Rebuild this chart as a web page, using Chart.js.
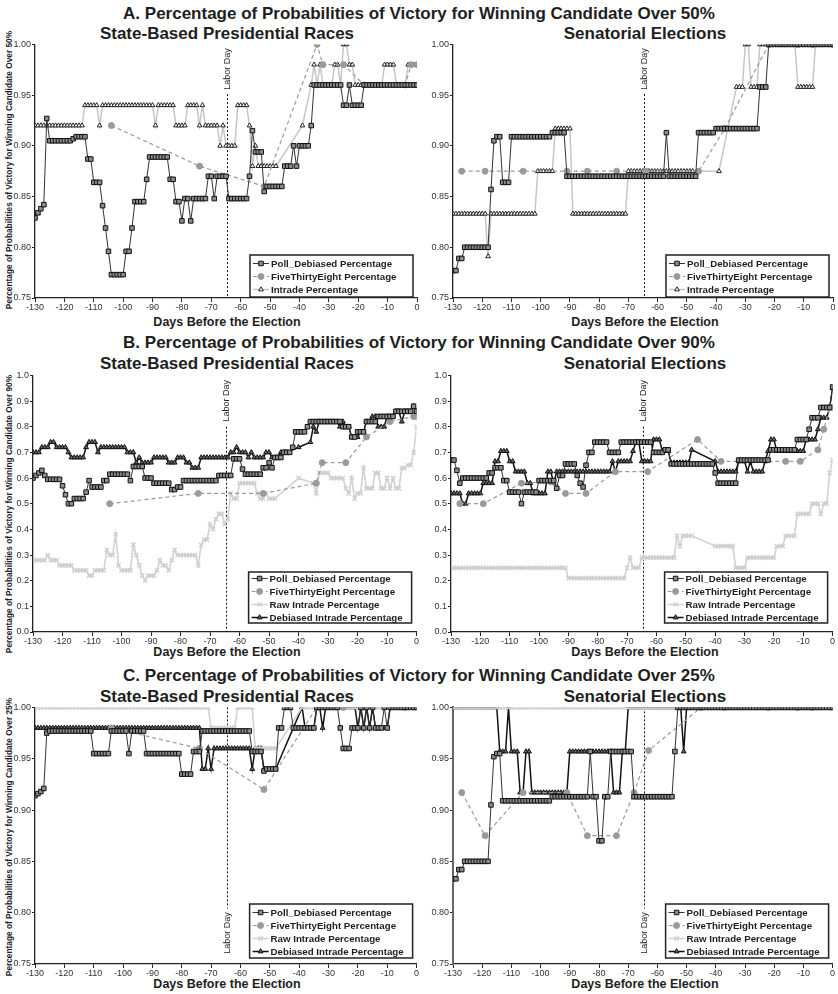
<!DOCTYPE html>
<html>
<head>
<meta charset="utf-8">
<script src="https://cdn.jsdelivr.net/npm/chart.js@4.4.0/dist/chart.umd.min.js"></script>
<style>
    body { margin: 0; width: 838px; height: 994px; overflow: hidden; position: relative; background: #fff;
           font-family: "Liberation Sans", Arial, sans-serif; color: #1e1e1e; }
    .t { position: absolute; font-weight: bold; white-space: nowrap; text-align: center; }
    .main { font-size: 17px; line-height: 17px; left: 0; width: 838px; }
    .sub { font-size: 17px; line-height: 17px; width: 400px; }
    .xt { font-size: 12.5px; line-height: 12.5px; width: 300px; }
    .yt { font-size: 8.3px; line-height: 10px; width: 340px; left: -161px; transform: rotate(-90deg); }
    .panel { position: absolute; }
</style>
</head>
<body>

<div class="t main" style="top:5px">A. Percentage of Probabilities of Victory for Winning Candidate Over 50%</div>
<div class="t sub" style="top:25px; left:27px">State-Based Presidential Races</div>
<div class="t sub" style="top:25px; left:445px">Senatorial Elections</div>
<div class="t yt" style="top:165px">Percentage of Probabilities of Victory for Winning Candidate Over 50%</div>
<div class="t xt" style="top:316px; left:77px">Days Before the Election</div>
<div class="t xt" style="top:316px; left:495px">Days Before the Election</div>

<div class="t main" style="top:334px">B. Percentage of Probabilities of Victory for Winning Candidate Over 90%</div>
<div class="t sub" style="top:355px; left:27px">State-Based Presidential Races</div>
<div class="t sub" style="top:355px; left:445px">Senatorial Elections</div>
<div class="t yt" style="top:509px">Percentage of Probabilities of Victory for Winning Candidate Over 90%</div>
<div class="t xt" style="top:646px; left:77px">Days Before the Election</div>
<div class="t xt" style="top:646px; left:495px">Days Before the Election</div>

<div class="t main" style="top:667px">C. Percentage of Probabilities of Victory for Winning Candidate Over 25%</div>
<div class="t sub" style="top:688px; left:27px">State-Based Presidential Races</div>
<div class="t sub" style="top:688px; left:445px">Senatorial Elections</div>
<div class="t yt" style="top:832px">Percentage of Probabilities of Victory for Winning Candidate Over 25%</div>
<div class="t xt" style="top:978px; left:77px">Days Before the Election</div>
<div class="t xt" style="top:978px; left:495px">Days Before the Election</div>

<canvas id="aPres" class="panel"></canvas>
<canvas id="aSen" class="panel"></canvas>
<canvas id="bPres" class="panel"></canvas>
<canvas id="bSen" class="panel"></canvas>
<canvas id="cPres" class="panel"></canvas>
<canvas id="cSen" class="panel"></canvas>

<script>
// Tage vor der Wahl, Labor Day
const dayMin = -130;
const dayMax = 0;
const laborDay = -64.5;

// Tageswerte als Abschnitte [vonTag, bisTag, Wert]

// A. Über 50 %
const aPresPoll = [[-130,-130,.829],[-129,-129,.834],[-128,-128,.838],[-127,-127,.842],[-126,-126,.927],[-125,-118,.905],[-117,-117,.907],[-116,-113,.909],[-112,-111,.887],[-110,-108,.864],[-107,-107,.841],[-106,-106,.819],[-105,-105,.796],[-104,-100,.773],[-99,-98,.796],[-97,-97,.819],[-96,-93,.845],[-92,-92,.867],[-91,-85,.889],[-84,-83,.867],[-82,-81,.845],[-80,-80,.826],[-79,-78,.848],[-77,-77,.826],[-76,-72,.848],[-71,-70,.870],[-69,-69,.848],[-68,-65,.870],[-64,-58,.848],[-57,-57,.870],[-56,-56,.915],[-55,-53,.894],[-52,-52,.855],[-51,-46,.860],[-45,-43,.880],[-42,-42,.900],[-41,-41,.880],[-40,-37,.900],[-36,-36,.920],[-35,-26,.960],[-25,-24,.940],[-23,-23,.960],[-22,-19,.940],[-18,0,.960]];
const aPresIntrade = [[-130,-114,.92],[-113,-109,.94],[-108,-108,.92],[-107,-90,.94],[-89,-89,.92],[-88,-83,.94],[-82,-79,.92],[-78,-75,.94],[-74,-74,.92],[-73,-73,.94],[-72,-68,.92],[-67,-67,.90],[-66,-66,.92],[-65,-62,.90],[-61,-58,.94],[-57,-57,.92],[-56,-56,.88],[-55,-55,.90],[-54,-48,.88],[-39,-39,.92],[-36,-36,.96],[-35,-35,.98],[-34,-34,.96],[-33,-33,.98],[-32,-29,.96],[-28,-27,.98],[-26,-26,.96],[-25,-24,1.0],[-23,-22,.98],[-21,-12,.96],[-11,-8,.98],[-7,-4,.96],[-3,0,.98]];
const aPres538Days = [-104, -74, -52, -34, -32, -25, -18, -4, -2, 0];
const aPres538 = [.92, .88, .86, 1.0, .98, .98, .96, .96, .98, .98];

const aSenPoll = [[-130,-129,.777],[-128,-127,.789],[-126,-118,.80],[-117,-117,.857],[-116,-116,.905],[-115,-114,.909],[-113,-111,.864],[-110,-97,.909],[-96,-92,.913],[-91,-58,.870],[-57,-57,.913],[-56,-47,.870],[-46,-41,.913],[-40,-26,.917],[-25,-23,.958],[-22,0,1.0]];
const aSenIntrade = [[-130,-119,.833],[-118,-118,.791],[-117,-102,.833],[-101,-96,.875],[-95,-90,.917],[-89,-71,.833],[-70,-48,.875],[-39,-39,.875],[-36,-36,.917],[-33,-31,.958],[-30,-29,1.0],[-28,-26,.958],[-25,-13,1.0],[-12,-7,.958],[-6,0,1.0]];
const aSen538Days = [-127, -119, -106, -91, -84, -74, -64, -46, -37, -22, -12, -7, 0];
const aSen538 = [.875, .875, .875, .875, .875, .875, .875, .875, .917, 1.0, 1.0, 1.0, 1.0];

// B. Über 90 %
const bPresPoll = [[-130,-130,.60],[-129,-129,.61],[-128,-128,.62],[-127,-127,.63],[-126,-126,.61],[-125,-121,.595],[-120,-120,.57],[-119,-119,.535],[-118,-117,.50],[-116,-113,.52],[-112,-112,.545],[-111,-111,.59],[-110,-107,.565],[-106,-105,.59],[-104,-98,.615],[-97,-97,.59],[-96,-93,.645],[-92,-90,.60],[-89,-84,.58],[-83,-82,.555],[-81,-80,.565],[-79,-68,.59],[-67,-63,.61],[-62,-60,.675],[-59,-59,.635],[-58,-53,.615],[-52,-51,.64],[-50,-50,.66],[-49,-49,.64],[-48,-46,.68],[-45,-43,.70],[-42,-42,.72],[-41,-38,.78],[-37,-37,.80],[-36,-26,.82],[-25,-23,.80],[-22,-21,.76],[-20,-18,.78],[-17,-14,.82],[-13,-8,.84],[-7,-2,.86],[-1,-1,.88],[0,0,.86]];
const bPres538Days = [-104, -74, -52, -34, -32, -24, -17, -9, -1, 0];
const bPres538 = [.50, .54, .54, .58, .66, .66, .76, .82, .84, .84];
const bPresRaw = [[-130,-126,.28],[-125,-125,.30],[-124,-122,.28],[-121,-117,.26],[-116,-112,.24],[-111,-110,.22],[-109,-106,.24],[-105,-105,.32],[-104,-103,.30],[-102,-102,.38],[-101,-101,.26],[-100,-97,.24],[-96,-96,.34],[-95,-95,.30],[-94,-94,.26],[-93,-93,.22],[-92,-92,.20],[-91,-89,.22],[-88,-88,.24],[-87,-87,.28],[-86,-85,.26],[-84,-84,.24],[-83,-83,.28],[-82,-82,.32],[-81,-75,.30],[-74,-74,.26],[-73,-73,.34],[-72,-71,.36],[-70,-70,.42],[-69,-69,.40],[-68,-68,.44],[-67,-66,.46],[-65,-65,.42],[-64,-64,.44],[-63,-63,.54],[-62,-61,.52],[-60,-55,.58],[-54,-54,.54],[-53,-52,.52],[-51,-51,.54],[-50,-48,.52],[-40,-40,.60],[-35,-35,.58],[-34,-34,.54],[-33,-30,.62],[-29,-25,.60],[-24,-24,.56],[-23,-23,.54],[-22,-22,.60],[-21,-21,.52],[-20,-19,.54],[-18,-18,.64],[-17,-15,.56],[-14,-13,.62],[-12,-11,.56],[-10,-10,.60],[-9,-9,.56],[-8,-8,.60],[-7,-6,.56],[-5,-4,.64],[-3,-2,.65],[-1,-1,.70],[0,0,.80]];
const bPresDeb = [[-130,-128,.70],[-127,-125,.72],[-124,-123,.74],[-122,-119,.72],[-118,-118,.70],[-117,-113,.68],[-112,-112,.72],[-111,-109,.74],[-108,-108,.70],[-107,-99,.72],[-98,-96,.70],[-95,-95,.66],[-94,-94,.68],[-93,-90,.66],[-89,-85,.68],[-84,-82,.66],[-81,-79,.68],[-78,-77,.66],[-76,-74,.64],[-73,-64,.68],[-63,-62,.70],[-61,-61,.72],[-60,-58,.70],[-57,-57,.68],[-56,-56,.70],[-55,-52,.68],[-51,-50,.70],[-49,-47,.68],[-46,-44,.70],[-40,-40,.72],[-36,-36,.74],[-35,-35,.80],[-34,-34,.78],[-33,-27,.82],[-26,-26,.80],[-25,-25,.82],[-24,-23,.80],[-22,-20,.76],[-19,-18,.78],[-17,-16,.82],[-15,-14,.84],[-13,-11,.80],[-10,-8,.84],[-7,-6,.86],[-5,-5,.82],[-4,-2,.86],[-1,-1,.88],[0,0,.86]];

const bSenPoll = [[-130,-129,.67],[-128,-128,.63],[-127,-127,.58],[-126,-118,.60],[-117,-116,.62],[-115,-113,.64],[-112,-111,.59],[-110,-107,.545],[-106,-106,.50],[-105,-101,.545],[-100,-95,.59],[-94,-94,.56],[-93,-92,.61],[-91,-88,.655],[-87,-87,.61],[-86,-86,.58],[-85,-85,.565],[-84,-84,.65],[-83,-82,.70],[-81,-77,.74],[-76,-73,.70],[-72,-62,.74],[-61,-58,.70],[-57,-56,.71],[-55,-41,.655],[-40,-40,.62],[-39,-33,.58],[-32,-22,.67],[-21,-13,.71],[-12,-9,.75],[-8,-8,.79],[-7,-5,.835],[-4,-1,.875],[0,0,.955]];
const bSen538Days = [-127, -119, -106, -96, -91, -84, -74, -63, -46, -38, -16, -11, -5, -3, -1, 0];
const bSen538 = [.50, .50, .58, .585, .54, .54, .625, .625, .75, .665, .665, .665, .71, .79, .875, .875];
const bSenRaw = [[-130,-91,.25],[-90,-71,.21],[-70,-70,.25],[-69,-69,.29],[-68,-66,.25],[-65,-54,.29],[-53,-53,.375],[-52,-52,.335],[-51,-48,.375],[-40,-34,.335],[-33,-30,.25],[-29,-20,.29],[-19,-17,.335],[-16,-13,.375],[-12,-8,.46],[-7,-5,.50],[-4,-4,.46],[-3,-2,.50],[-1,-1,.62],[0,0,.67]];
const bSenDeb = [[-130,-127,.54],[-126,-125,.50],[-124,-120,.54],[-119,-116,.58],[-115,-114,.665],[-113,-111,.705],[-110,-109,.665],[-108,-105,.625],[-104,-103,.58],[-102,-98,.54],[-97,-96,.625],[-95,-95,.58],[-94,-76,.625],[-75,-75,.665],[-74,-74,.625],[-73,-69,.665],[-68,-68,.705],[-67,-66,.74],[-65,-62,.665],[-61,-59,.75],[-58,-56,.705],[-55,-49,.66],[-48,-48,.71],[-40,-40,.665],[-39,-33,.625],[-32,-30,.665],[-29,-29,.625],[-28,-28,.665],[-27,-24,.625],[-23,-23,.665],[-22,-22,.705],[-21,-20,.75],[-19,-10,.705],[-9,-6,.75],[-5,-5,.79],[-4,-2,.835],[-1,-1,.875],[0,0,.95]];

// C. Über 25 %
const cPresPoll = [[-130,-130,.914],[-129,-129,.916],[-128,-128,.918],[-127,-127,.921],[-126,-126,.975],[-125,-111,.977],[-110,-105,.955],[-104,-99,.977],[-98,-98,.955],[-97,-93,.977],[-92,-81,.955],[-80,-77,.935],[-76,-74,.957],[-73,-57,.977],[-56,-53,.957],[-52,-52,.938],[-51,-48,.94],[-47,-46,.98],[-45,-43,1.0],[-42,-35,.98],[-34,-27,1.0],[-26,-26,.98],[-25,-23,.96],[-22,-20,.98],[-19,-19,1.0],[-18,-18,.98],[-17,-17,1.0],[-16,-16,.98],[-15,-15,1.0],[-14,-12,.98],[-11,-11,1.0],[-10,-10,.98],[-9,0,1.0]];
const cPres538Days = [-104, -74, -52, -34, -25, -18, -4, 0];
const cPres538 = [.98, .96, .92, 1.0, 1.0, 1.0, 1.0, 1.0];
const cPresRaw = [[-130,-71,1.0],[-70,-62,.98],[-61,-56,1.0],[-55,-48,.96],[-39,0,1.0]];
const cPresDeb = [[-130,-74,.98],[-73,-72,.94],[-71,-71,.96],[-70,-70,.94],[-69,-57,.96],[-56,-56,.94],[-55,-53,.96],[-52,-48,.94],[-39,-39,1.0],[-38,-35,.98],[-34,-33,1.0],[-32,-32,.98],[-31,-21,1.0],[-20,-20,.98],[-19,-19,1.0],[-18,-18,.98],[-17,-17,1.0],[-16,-16,.98],[-15,-15,1.0],[-14,-10,.98],[-9,0,1.0]];

const cSenPoll = [[-130,-129,.833],[-128,-127,.842],[-126,-118,.85],[-117,-117,.905],[-116,-116,.952],[-115,-114,.955],[-113,-97,.909],[-96,-84,.913],[-83,-83,.957],[-82,-81,.913],[-80,-79,.87],[-78,-77,.913],[-76,-69,.957],[-68,-55,.913],[-54,-54,.957],[-53,0,1.0]];
const cSen538Days = [-127, -119, -106, -91, -84, -74, -68, -63, -45, -37, -22, -12, -7, 0];
const cSen538 = [.917, .875, .917, .917, .875, .875, .917, .958, 1.0, 1.0, 1.0, 1.0, 1.0, 1.0];
const cSenRaw = [[-130,0,1.0]];
const cSenDeb = [[-130,-115,1.0],[-114,-112,.957],[-111,-111,1.0],[-110,-108,.957],[-107,-106,.917],[-105,-104,.957],[-103,-91,.917],[-90,-76,.957],[-75,-73,.917],[-72,-71,.957],[-70,-52,1.0],[-51,-51,.957],[-50,0,1.0]];

const FONT = '"Liberation Sans", Arial, sans-serif';
Chart.defaults.font.family = FONT;

function fromRuns(runs) {
    const pts = [];
    runs.forEach(([a, b, v]) => {
        for (let d = a; d <= b; d++) pts.push({ x: d, y: v });
    });
    return pts;
}

function fromPoints(days, vals) {
    return days.map((d, i) => ({ x: d, y: vals[i] }));
}

// Datensatz-Stile
function pollSet(runs) {
    return { label: 'Poll_Debiased Percentage', data: fromRuns(runs), borderColor: '#333', borderWidth: 1,
             pointStyle: 'rect', pointRadius: 3.2, pointBackgroundColor: '#8c8c8c', pointBorderColor: '#111', pointBorderWidth: 1 };
}
function fteSet(days, vals) {
    return { label: 'FiveThirtyEight Percentage', data: fromPoints(days, vals), borderColor: '#9a9a9a', borderWidth: 1.2, borderDash: [4, 3],
             pointStyle: 'circle', pointRadius: 3, pointBackgroundColor: '#9a9a9a', pointBorderColor: '#9a9a9a', pointBorderWidth: 1 };
}
function intradeSet(runs) {
    return { label: 'Intrade Percentage', data: fromRuns(runs), borderColor: '#c6c6c6', borderWidth: 1.5,
             pointStyle: 'triangle', pointRadius: 2.7, pointBackgroundColor: '#ffffff', pointBorderColor: '#222', pointBorderWidth: 1 };
}
function rawSet(runs) {
    return { label: 'Raw Intrade Percentage', data: fromRuns(runs), borderColor: '#d2d2d2', borderWidth: 1.6,
             pointStyle: 'crossRot', pointRadius: 3, pointBackgroundColor: '#d2d2d2', pointBorderColor: '#cfcfcf', pointBorderWidth: 1.4 };
}
function debSet(runs) {
    return { label: 'Debiased Intrade Percentage', data: fromRuns(runs), borderColor: '#111', borderWidth: 1.5,
             pointStyle: 'triangle', pointRadius: 2.8, pointBackgroundColor: '#666', pointBorderColor: '#111', pointBorderWidth: 1 };
}

// Gestrichelte Linie für Labor Day
const laborDayPlugin = {
    id: 'laborDay',
    beforeDatasetsDraw(chart, args, opts) {
        const { ctx } = chart;
        const x = Math.round(chart.scales.x.getPixelForValue(laborDay)) + 0.5;
        const yA = chart.scales.y.getPixelForValue(opts.from);
        const yB = chart.scales.y.getPixelForValue(opts.to);
        ctx.save();
        ctx.strokeStyle = '#111';
        ctx.lineWidth = 1;
        ctx.setLineDash([2, 2]);
        ctx.beginPath();
        ctx.moveTo(x, yA);
        ctx.lineTo(x, yB);
        ctx.stroke();
        ctx.setLineDash([]);
        const ty = opts.below ? yB + opts.gap : yA - opts.gap;
        ctx.translate(x, ty);
        ctx.rotate(-Math.PI / 2);
        ctx.font = '9px ' + FONT;
        ctx.fillStyle = '#1e1e1e';
        ctx.textAlign = 'center';
        ctx.textBaseline = 'middle';
        ctx.fillText('Labor Day', 0, 0);
        ctx.restore();
    }
};

// Legende als Kasten unten rechts im Diagramm
const boxLegendPlugin = {
    id: 'boxLegend',
    afterDatasetsDraw(chart, args, opts) {
        const { ctx, chartArea } = chart;
        const sets = chart.data.datasets;
        const w = 163, h = opts.height, rowH = 13;
        const x0 = chartArea.right - opts.right - w;
        const y0 = chartArea.bottom - opts.bottom - h;
        ctx.save();
        ctx.fillStyle = '#fff';
        ctx.fillRect(x0, y0, w, h);
        ctx.strokeStyle = '#222';
        ctx.lineWidth = 1.5;
        ctx.strokeRect(x0, y0, w, h);
        const first = y0 + (h - rowH * (sets.length - 1)) / 2;
        sets.forEach((ds, i) => {
            const cy = Math.round(first + i * rowH) + 0.5;
            ctx.strokeStyle = ds.borderColor;
            ctx.lineWidth = ds.borderWidth;
            ctx.setLineDash(ds.borderDash || []);
            ctx.beginPath();
            ctx.moveTo(x0 + 3, cy);
            ctx.lineTo(x0 + 19, cy);
            ctx.stroke();
            ctx.setLineDash([]);
            ctx.fillStyle = ds.pointBackgroundColor;
            ctx.strokeStyle = ds.pointBorderColor;
            ctx.lineWidth = ds.pointBorderWidth;
            Chart.helpers.drawPoint(ctx, { pointStyle: ds.pointStyle, radius: ds.pointRadius, borderWidth: ds.pointBorderWidth }, x0 + 11, cy);
            ctx.fillStyle = '#1e1e1e';
            ctx.font = 'bold 9.7px ' + FONT;
            ctx.textAlign = 'left';
            ctx.textBaseline = 'middle';
            ctx.fillText(ds.label, x0 + 21, cy + 0.5);
        });
        ctx.restore();
    }
};

Chart.register(laborDayPlugin, boxLegendPlugin);

function makePanel(id, geo, yCfg, datasets, labor, legend) {
    const canvas = document.getElementById(id);
    const width = geo.right - geo.left;
    const height = geo.plotBottom - geo.plotTop + 5 + 16;
    canvas.width = width;
    canvas.height = height;
    canvas.style.left = geo.left + 'px';
    canvas.style.top = (geo.plotTop - 5) + 'px';

    new Chart(canvas, {
        type: 'line',
        data: { datasets: datasets },
        options: {
            responsive: false,
            animation: false,
            events: [],
            layout: { padding: { top: 5, right: geo.right - geo.plotRight, left: 0, bottom: 0 } },
            plugins: {
                legend: { display: false },
                tooltip: { enabled: false },
                laborDay: labor,
                boxLegend: legend
            },
            scales: {
                x: {
                    type: 'linear', min: dayMin, max: dayMax,
                    ticks: { stepSize: 10, autoSkip: false, maxRotation: 0, padding: 0, color: '#333', font: { size: 9 } },
                    grid: { drawOnChartArea: false, drawTicks: true, tickLength: 4, color: '#222' },
                    border: { display: true, color: '#222', width: 1.3 },
                    afterFit: s => { s.height = 16; }
                },
                y: {
                    min: yCfg.min, max: yCfg.max,
                    ticks: { stepSize: yCfg.step, padding: 1, color: '#333', font: { size: 9 },
                             callback: v => Number(v).toFixed(yCfg.dec) },
                    grid: { drawOnChartArea: false, drawTicks: true, tickLength: 3, color: '#222' },
                    border: { display: true, color: yCfg.axisColor || '#222', width: yCfg.axisWidth || 1.3 },
                    afterFit: s => { s.width = geo.plotLeft - geo.left; }
                }
            }
        }
    });
}

const yA = { min: 0.75, max: 1.0, step: 0.05, dec: 2 };
const yB = { min: 0, max: 1.0, step: 0.1, dec: 1 };
const yCSen = { min: 0.75, max: 1.0, step: 0.05, dec: 2, axisColor: '#666', axisWidth: 2 };

makePanel('aPres', { left: 0, right: 422, plotLeft: 35, plotRight: 419, plotTop: 43, plotBottom: 298 }, yA,
    [pollSet(aPresPoll), fteSet(aPres538Days, aPres538), intradeSet(aPresIntrade)],
    { from: 0.951, to: 0.75, gap: 25 }, { height: 42, right: 4, bottom: 1 });
makePanel('aSen', { left: 418, right: 838, plotLeft: 453, plotRight: 837, plotTop: 43, plotBottom: 298 }, yA,
    [pollSet(aSenPoll), fteSet(aSen538Days, aSen538), intradeSet(aSenIntrade)],
    { from: 0.951, to: 0.75, gap: 25 }, { height: 42, right: 4, bottom: 1 });

makePanel('bPres', { left: 0, right: 422, plotLeft: 33, plotRight: 419, plotTop: 374, plotBottom: 632 }, yB,
    [pollSet(bPresPoll), fteSet(bPres538Days, bPres538), rawSet(bPresRaw), debSet(bPresDeb)],
    { from: 0.80, to: 0, gap: 26 }, { height: 51, right: 5, bottom: 9 });
makePanel('bSen', { left: 418, right: 838, plotLeft: 451, plotRight: 837, plotTop: 374, plotBottom: 632 }, yB,
    [pollSet(bSenPoll), fteSet(bSen538Days, bSen538), rawSet(bSenRaw), debSet(bSenDeb)],
    { from: 0.80, to: 0, gap: 26 }, { height: 51, right: 5, bottom: 9 });

makePanel('cPres', { left: 0, right: 422, plotLeft: 35, plotRight: 419, plotTop: 706, plotBottom: 964 }, yA,
    [pollSet(cPresPoll), fteSet(cPres538Days, cPres538), rawSet(cPresRaw), debSet(cPresDeb)],
    { from: 1.0, to: 0.804, gap: 24.5, below: true }, { height: 54, right: 4, bottom: 6 });
makePanel('cSen', { left: 418, right: 838, plotLeft: 453, plotRight: 837, plotTop: 706, plotBottom: 964 }, yCSen,
    [pollSet(cSenPoll), fteSet(cSen538Days, cSen538), rawSet(cSenRaw), debSet(cSenDeb)],
    { from: 1.0, to: 0.804, gap: 24.5, below: true }, { height: 54, right: 4, bottom: 6 });
</script>
</body>
</html>
